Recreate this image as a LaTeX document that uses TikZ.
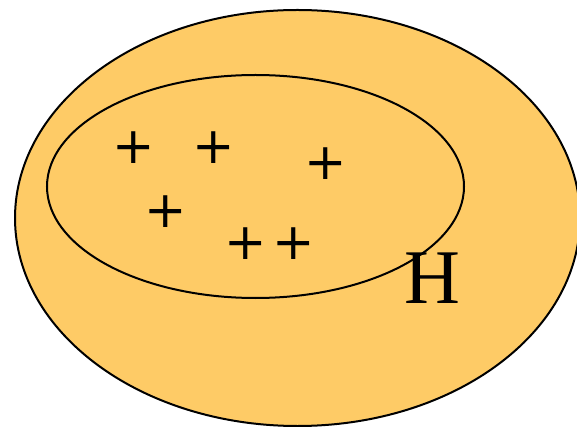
\documentclass[tikz,border=0pt]{standalone}
\usepackage{xcolor}
\usepackage{fontspec}
\usepackage{tikz}
\usetikzlibrary{positioning}
\newfontfamily\plusfont{DejaVu Sans}
\newfontfamily\hypfont{Liberation Serif}
\definecolor{HypoFill}{HTML}{FECB66}

\begin{document}
\begin{tikzpicture}[x=0.75pt,y=-0.75pt,
  region/.style={draw=black,line width=1.5pt},
  sample/.style={inner sep=0pt,font=\plusfont\fontsize{38}{38}\selectfont},
  label/.style={inner sep=0pt,font=\hypfont\fontsize{58}{58}\selectfont}
]
\useasboundingbox (0,0) rectangle (577,427);
\clip (0,0) rectangle (577,427);
% hypothesis space and the concept inside it
\draw[region,fill=HypoFill] (297.5,218) ellipse [x radius=282.5,y radius=208];
\draw[region] (255.5,186.5) ellipse [x radius=208.5,y radius=111.5];
% positive examples
\node[sample] (p1) at (134,148) {+};
\node[sample] (p2) at (214,148) {+};
\node[sample] (p3) at (326,164) {+};
\node[sample] (p4) at (166,212) {+};
\node[sample] (p5) at (246,244) {+};
\node[sample] (p6) at (294,244) {+};
\node[label] (hyp) at (432,278) {H};
\end{tikzpicture}
\end{document}
